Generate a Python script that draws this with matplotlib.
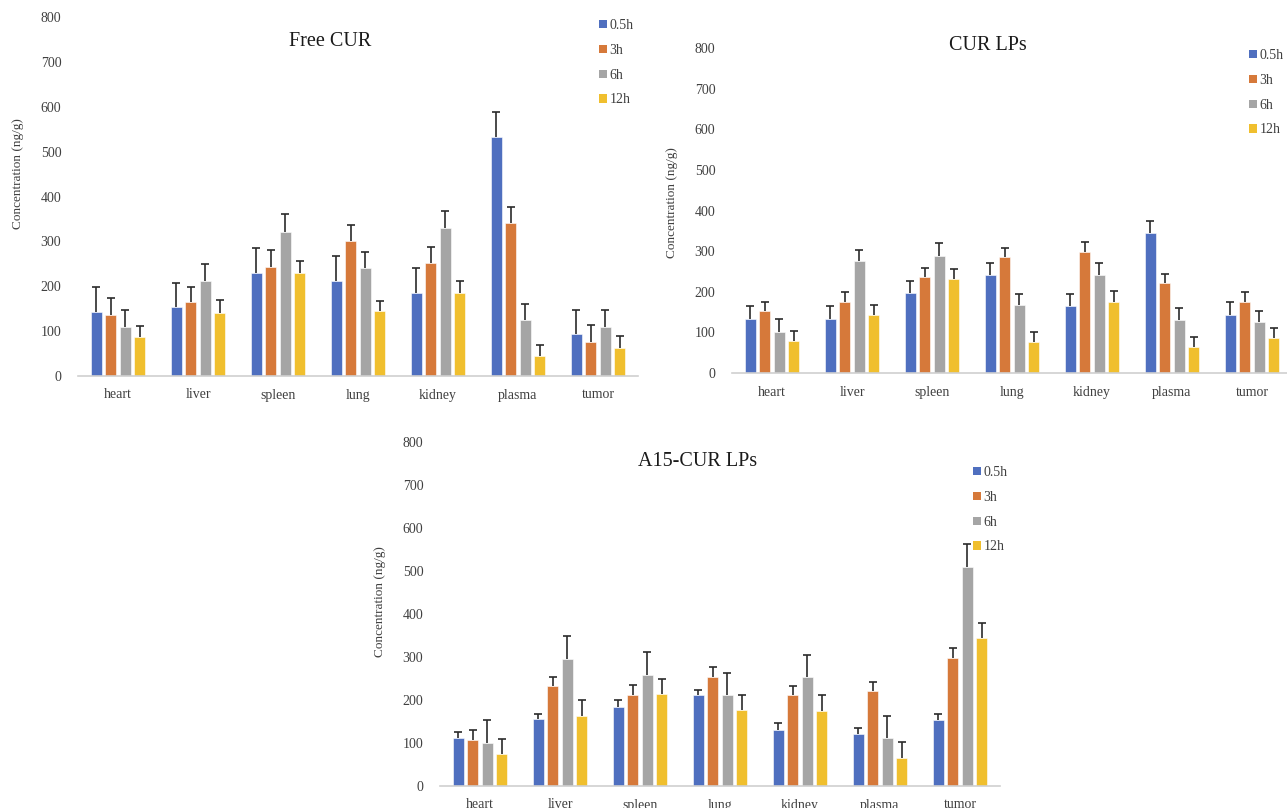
import matplotlib
matplotlib.use("Agg")
import matplotlib.pyplot as plt
from matplotlib.patches import Patch
import numpy as np

plt.rcParams['font.family'] = ['Liberation Serif', 'DejaVu Serif']

organs = ['heart', 'liver', 'spleen', 'lung', 'kidney', 'plasma', 'tumor']
times = ['0.5h', '3h', '6h', '12h']
colors = ['#4F6FBF', '#D6793A', '#A5A5A5', '#F0BF2E']

# Free CUR
free_05 = [143, 154, 229, 211, 185, 532, 93]
free_3 = [137, 164, 244, 301, 252, 340, 75]
free_6 = [109, 211, 322, 241, 330, 125, 109]
free_12 = [86, 140, 229, 144, 185, 44, 63]
free_05_err = [56, 53, 57, 56, 56, 57, 55]
free_3_err = [37, 35, 36, 36, 36, 36, 39]
free_6_err = [39, 39, 38, 36, 38, 35, 39]
free_12_err = [25, 29, 27, 24, 27, 25, 27]

# CUR LPs
lp_05 = [133, 133, 196, 242, 165, 345, 144]
lp_3 = [153, 176, 236, 285, 299, 222, 176]
lp_6 = [102, 276, 288, 167, 242, 130, 125]
lp_12 = [79, 142, 231, 76, 176, 64, 87]
lp_05_err = [31, 31, 31, 30, 30, 28, 32]
lp_3_err = [23, 23, 23, 22, 23, 22, 23]
lp_6_err = [30, 28, 31, 28, 30, 31, 28]
lp_12_err = [24, 25, 25, 24, 25, 25, 25]

# A15-CUR LPs
a15_05 = [111, 155, 184, 212, 130, 122, 154]
a15_3 = [108, 233, 211, 253, 212, 222, 298]
a15_6 = [100, 295, 257, 212, 253, 111, 510]
a15_12 = [74, 163, 214, 176, 174, 65, 344]
a15_05_err = [15, 12, 16, 12, 17, 14, 14]
a15_3_err = [22, 20, 24, 24, 21, 21, 22]
a15_6_err = [53, 53, 55, 50, 52, 51, 53]
a15_12_err = [36, 36, 36, 36, 38, 38, 34]

W, H = 1287, 808
fig = plt.figure(figsize=(W / 100, H / 100), dpi=100)


def fx(px):
    return px / W


def fy(py):
    return 1 - py / H


def panel(left, right, y0, y800, series, errs, title, title_xy, leg_xy, ylab_xy):
    ax = fig.add_axes([fx(left), fy(y0), fx(right - left), (y0 - y800) / H])
    x = np.arange(len(organs))
    step = 0.182
    for i, (vals, err) in enumerate(zip(series, errs)):
        pos = x + (i - 1.5) * step
        ax.bar(pos, vals, width=0.14, color=colors[i], edgecolor='white', linewidth=0.4,
               zorder=2)
        eb = ax.errorbar(pos, vals, yerr=[np.zeros(len(err)), err], fmt='none',
                         ecolor='#2b2b2b', elinewidth=1.2, capsize=2.8, capthick=1.2, zorder=3)
        # only the upper cap, like the reference
        eb[1][0].set_visible(False)
    ax.set_xlim(-0.5, len(organs) - 0.5)
    ax.set_ylim(0, 800)
    ax.set_yticks(range(0, 801, 100))
    ax.set_xticks(x)
    ax.set_xticklabels(organs, fontsize=10)
    ax.tick_params(axis='both', length=0, labelsize=10, colors='#404040')
    ax.tick_params(axis='y', pad=12)
    ax.tick_params(axis='x', pad=9)
    for s in ['top', 'right', 'left']:
        ax.spines[s].set_visible(False)
    ax.spines['bottom'].set_color('#d0d0d0')
    ax.spines['bottom'].set_linewidth(1.2)
    ax.set_facecolor('none')
    fig.text(fx(title_xy[0]), fy(title_xy[1]), title, ha='center', va='center',
             fontsize=14.5, color='#1a1a1a')
    fig.text(fx(ylab_xy[0]), fy(ylab_xy[1]), 'Concentration (ng/g)', rotation=90,
             ha='center', va='center', fontsize=9.5, color='#404040')
    handles = [Patch(facecolor=c, edgecolor='none') for c in colors]
    ax.legend(handles, times, loc='upper left', bbox_to_anchor=(fx(leg_xy[0]), fy(leg_xy[1])),
              bbox_transform=fig.transFigure, frameon=False, fontsize=10,
              handlelength=0.55, handleheight=0.55, handletextpad=0.2,
              labelspacing=0.85, borderpad=0, borderaxespad=0, labelcolor='#404040')
    return ax


panel(78, 638, 376, 17,
      [free_05, free_3, free_6, free_12],
      [free_05_err, free_3_err, free_6_err, free_12_err],
      'Free CUR', (330, 42), (599, 19), (18, 174))

panel(732, 1292, 373, 48,
      [lp_05, lp_3, lp_6, lp_12],
      [lp_05_err, lp_3_err, lp_6_err, lp_12_err],
      'CUR LPs', (988, 46), (1249, 49), (672, 203))

panel(440, 1000, 786, 442,
      [a15_05, a15_3, a15_6, a15_12],
      [a15_05_err, a15_3_err, a15_6_err, a15_12_err],
      'A15-CUR LPs', (698, 462), (973, 466), (380, 602))

fig.savefig('out.png', dpi=100)
